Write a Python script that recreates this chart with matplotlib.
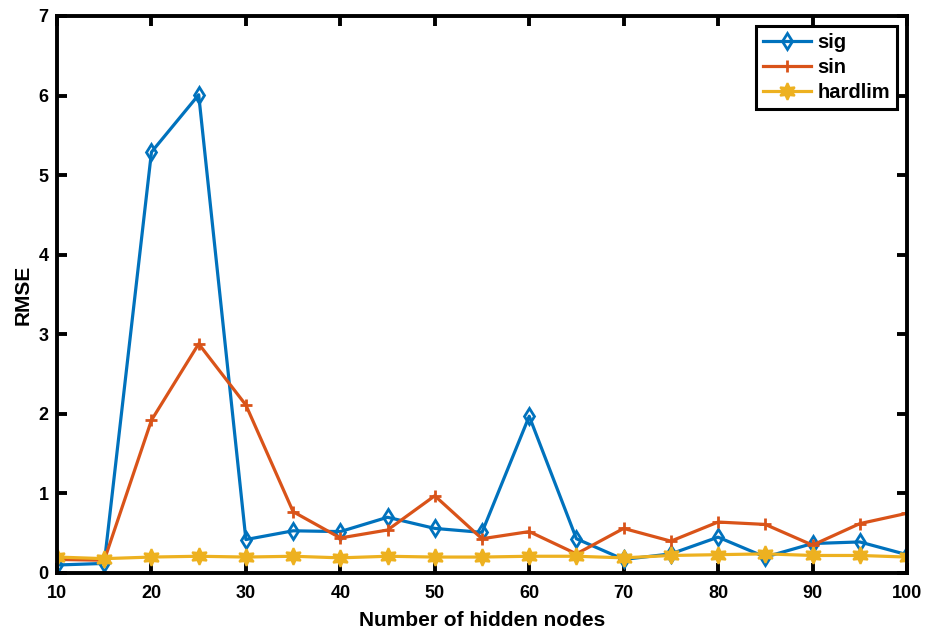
import matplotlib
matplotlib.use("Agg")
import matplotlib.pyplot as plt

plt.rcParams['font.family'] = ['Liberation Sans', 'DejaVu Sans']
plt.rcParams['font.weight'] = 'bold'

nodes = [10, 15, 20, 25, 30, 35, 40, 45, 50, 55, 60, 65, 70, 75, 80, 85, 90, 95, 100]
sig = [0.10, 0.12, 5.29, 6.01, 0.42, 0.53, 0.52, 0.70, 0.56, 0.51, 1.97, 0.43, 0.17, 0.24, 0.45, 0.20, 0.37, 0.39, 0.23]
sin_ = [0.17, 0.16, 1.92, 2.88, 2.11, 0.77, 0.44, 0.54, 0.97, 0.43, 0.52, 0.24, 0.56, 0.40, 0.64, 0.61, 0.35, 0.62, 0.75]
hardlim = [0.20, 0.18, 0.20, 0.21, 0.20, 0.21, 0.19, 0.21, 0.20, 0.20, 0.21, 0.21, 0.19, 0.22, 0.23, 0.24, 0.22, 0.22, 0.20]
xticks = [10, 20, 30, 40, 50, 60, 70, 80, 90, 100]
yticks = [0, 1, 2, 3, 4, 5, 6, 7]

fig = plt.figure(figsize=(9.35, 6.32), dpi=100)
ax = fig.add_axes([0.061, 0.0934, 0.909, 0.8813])

ax.plot(nodes, sig, color='#0072BD', lw=2.3, marker='d', ms=8.5, mfc='none', mew=2, label='sig')
ax.plot(nodes, sin_, color='#D95319', lw=2.3, marker='+', ms=8, mew=2, label='sin')
ax.plot(nodes, hardlim, color='#EDB120', lw=2.3, marker=(6, 1, 0), ms=12, mew=1.5, label='hardlim')

ax.set_xlim(10, 100)
ax.set_ylim(0, 7)
ax.set_xticks(xticks)
ax.set_yticks(yticks)
for s in ax.spines.values():
    s.set_linewidth(2.8)
ax.tick_params(direction='in', length=7, width=2.8, labelsize=13, top=True, right=True)
ax.tick_params(axis='x', pad=9)
ax.tick_params(axis='y', pad=6)
for lab in ax.get_xticklabels() + ax.get_yticklabels():
    lab.set_fontweight('bold')
ax.set_xlabel('Number of hidden nodes', fontsize=15, fontweight='bold', labelpad=6)
ax.set_ylabel('RMSE', fontsize=15, fontweight='bold', labelpad=4)

leg = ax.legend(loc='upper right', fontsize=14.5, fancybox=False, framealpha=1,
                edgecolor='black', borderaxespad=0.5, handlelength=2.4, borderpad=0.35,
                labelspacing=0.3, handletextpad=0.3)
leg.get_frame().set_linewidth(2.2)
for t in leg.get_texts():
    t.set_fontweight('bold')

fig.savefig('out.png', dpi=100)
